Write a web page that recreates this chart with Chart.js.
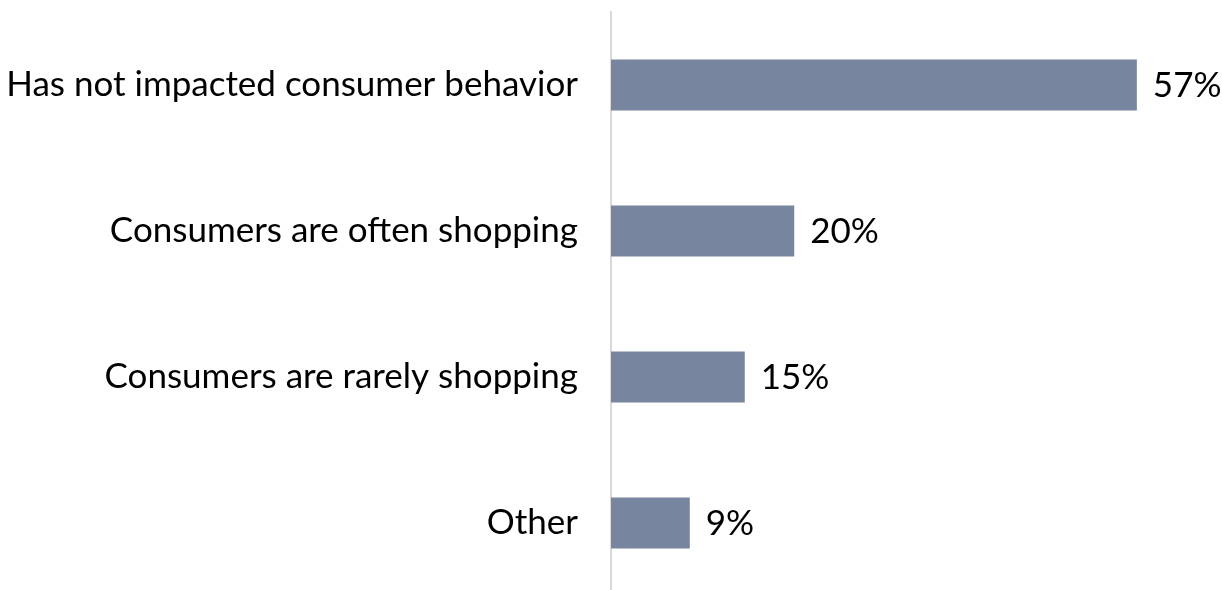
<!DOCTYPE html>
<html>
<head>
<meta charset="utf-8">
<script src="https://cdn.jsdelivr.net/npm/chart.js@4.4.1/dist/chart.umd.min.js"></script>
<style>
  html, body { margin: 0; padding: 0; background: #ffffff; overflow: hidden; }
  #wrap { position: relative; width: 1222px; height: 596px; }
</style>
</head>
<body>
<div id="wrap"><canvas id="c"></canvas></div>
<script>
const categories = [
  "Has not impacted consumer behavior",
  "Consumers are often shopping",
  "Consumers are rarely shopping",
  "Other"
];
const values = [57.4, 20.0, 14.6, 8.6];
const valueLabels = ["57%", "20%", "15%", "9%"];

const FONT = "Lato, 'Open Sans', sans-serif";
const FONT_SIZE = 35;

const labelPlugin = {
  id: 'valueLabels',
  afterDatasetsDraw(chart) {
    const ctx = chart.ctx;
    const meta = chart.getDatasetMeta(0);
    ctx.save();
    ctx.font = FONT_SIZE + "px " + FONT;
    ctx.fillStyle = "#000000";
    ctx.textAlign = "left";
    ctx.textBaseline = "middle";
    meta.data.forEach((bar, i) => {
      ctx.fillText(valueLabels[i], bar.x + 16, bar.y + 1);
    });
    ctx.restore();
  }
};

new Chart(document.getElementById('c'), {
  type: 'bar',
  data: {
    labels: categories,
    datasets: [{
      data: values,
      backgroundColor: '#77869E',
      borderWidth: 0,
      barPercentage: 0.35,
      categoryPercentage: 1.0
    }]
  },
  options: {
    indexAxis: 'y',
    responsive: true,
    maintainAspectRatio: false,
    animation: false,
    layout: { padding: { top: 12, right: 43, bottom: 0, left: 0 } },
    plugins: { legend: { display: false }, tooltip: { enabled: false } },
    scales: {
      x: { display: false, min: 0, max: 62 },
      y: {
        afterFit(scale) {
          scale.width = 611;
          scale.paddingTop = 0;
          scale.paddingBottom = 0;
        },
        grid: { display: false, drawTicks: false },
        border: { display: true, color: '#d9d9d9', width: 2 },
        ticks: {
          color: '#000000',
          padding: 33,
          font: { family: FONT, size: FONT_SIZE }
        }
      }
    }
  },
  plugins: [labelPlugin]
});
</script>
</body>
</html>
